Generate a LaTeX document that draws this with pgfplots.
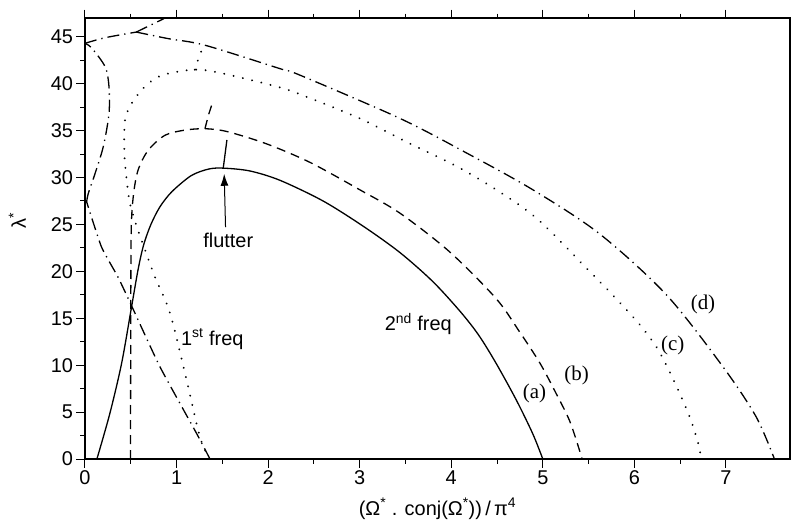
\documentclass[border=0pt]{standalone}
\usepackage{fontspec}
\setmainfont{Liberation Sans}
\newfontfamily\serif{Liberation Serif}
\usepackage{pgfplots}
\pgfplotsset{compat=1.18}
\usetikzlibrary{arrows.meta}

\begin{document}
\begin{tikzpicture}
\path[use as bounding box] (-85bp,-69bp) rectangle (706bp,459bp);
\begin{axis}[
    at={(0,0)}, anchor=south west,
    scale only axis,
    width=705bp, height=441bp,
    xmin=0, xmax=7.7, ymin=0, ymax=47,
    xtick={0,1,...,7}, ytick={0,5,...,45},
    minor x tick num=1, minor y tick num=1,
    tick align=outside,
    major tick length=8.5bp, minor tick length=4.5bp,
    axis line style={line width=1.2bp},
    every tick/.style={line width=1bp, black},
    tick label style={font=\fontsize{20}{22}\selectfont},
    /pgf/number format/assume math mode=true,
    label style={font=\fontsize{20}{22}\selectfont},
    xlabel={(Ω\textsuperscript{*} . conj(Ω\textsuperscript{*}))\,/\,π\textsuperscript{4}},
    ylabel={λ\textsuperscript{*}},
    xlabel style={at={(axis description cs:0.5,-0.113)}, anchor=center},
    ylabel style={at={(axis description cs:-0.096,0.54)}, anchor=center},
    cycle list={{black}},
    no markers,
    every axis plot/.append style={line width=1.3bp},
    solidc/.style={black, solid},
    dashc/.style={black, dash pattern=on 9bp off 6bp},
    dotc/.style={black, line width=2.1bp, line cap=round, dash pattern=on 0.01bp off 9.5bp},
    ddotc/.style={black, dash pattern=on 12bp off 5bp on 1.3bp off 5bp},
]
% (a) solid
\addplot[solidc, smooth, tension=0.5] coordinates {
    (0.13,0) (0.27,4.8) (0.40,10.2) (0.51,16.3) (0.58,20.2) (0.64,22.8)
    (0.72,25.0) (0.82,26.9) (0.95,28.5) (1.16,30.2) (1.35,30.9) (1.51,31.0)
    (1.8,30.7) (2.13,29.7) (2.6,27.5) (3.04,24.8) (3.44,22.0) (3.80,18.9)
    (4.1,15.7) (4.3,13.2) (4.49,10.2) (4.71,6.3) (4.89,2.7) (5.0,0)
};
\addplot[solidc] coordinates {(1.51,31.0) (1.55,34.0)};
% (b) dashed
\addplot[dashc, smooth, tension=0.5] coordinates {
    (0.497,0) (0.5,15) (0.505,24.5) (0.53,28.2) (0.58,30.8) (0.69,32.9)
    (0.873,34.5) (1.09,35.05) (1.31,35.2) (1.55,34.9) (1.98,33.6)
    (2.46,31.6) (3.0,28.7) (3.44,26.2) (3.98,22.1) (4.49,17.1) (4.75,13.5)
    (4.97,10.2) (5.15,6.9) (5.3,3.9) (5.43,0)
};
\addplot[dashc] coordinates {(1.31,35.2) (1.35,36.7) (1.40,38.2)};
% (c) dotted
\addplot[dotc, smooth, tension=0.5] coordinates {
    (1.36,0) (1.255,2.35) (1.11,8.4) (0.93,15.5) (0.764,19.4) (0.655,22.3)
    (0.56,24.9) (0.49,27.3) (0.456,29.7) (0.43,32.6) (0.437,36.1) (0.51,37.9)
    (0.655,39.7) (0.84,40.9) (1.2,41.5) (1.5,41.1) (2.13,39.6) (2.42,38.6)
    (3.0,36.3) (3.51,33.8) (4.17,30.6) (4.89,26.0) (5.51,20.0) (5.81,17.0)
    (6.06,14.3) (6.25,11.8) (6.42,8.6) (6.6,4.6) (6.7,1.6) (6.73,0)
};
\addplot[dotc] coordinates {(1.2,41.5) (1.25,43.0) (1.31,44.3)};
% (d) dash-dot
\addplot[ddotc, smooth, tension=0.3] coordinates {
    (1.365,0) (1.22,2.7) (0.82,9.8) (0.51,16.3) (0.36,19.4) (0.18,22.6) (0.018,27.4)
};
\addplot[ddotc, smooth, tension=0.5] coordinates {
    (0.018,27.4) (0.036,28.3) (0.109,30.4) (0.2,33.3) (0.262,36.8) (0.262,39.7)
    (0.22,41.8) (0.073,43.8) (0.0,44.3)
};
\addplot[ddotc, smooth, tension=0.5] coordinates {
    (0.0,44.3) (0.22,44.9) (0.56,45.5)
};
\addplot[ddotc, smooth, tension=0.5] coordinates {
    (0.56,45.5) (0.91,44.8) (1.31,44.1) (2.13,41.6) (2.35,40.9) (3.44,36.3)
    (4.17,32.6) (4.89,28.7) (5.62,24.0) (6.35,17.5) (6.97,9.8) (7.33,4.5) (7.53,0)
};
\addplot[ddotc] coordinates {(0.56,45.5) (0.855,46.9) (0.95,47.5)};
% arrow
\addplot[black, line width=1bp, -{Latex[length=12bp,width=8bp]}] coordinates {(1.535,24.7) (1.52,30.4)};

\node[font=\fontsize{20}{22}\selectfont] at (axis cs:1.565,23.3) {flutter};
\node[font=\fontsize{20}{22}\selectfont] at (axis cs:1.39,12.8) {1\textsuperscript{st} freq};
\node[font=\fontsize{20}{22}\selectfont] at (axis cs:3.64,14.4) {2\textsuperscript{nd} freq};
\node[font=\serif\fontsize{21}{23}\selectfont] at (axis cs:4.91,7.0) {(a)};
\node[font=\serif\fontsize{21}{23}\selectfont] at (axis cs:5.37,8.85) {(b)};
\node[font=\serif\fontsize{21}{23}\selectfont] at (axis cs:6.42,12.1) {(c)};
\node[font=\serif\fontsize{21}{23}\selectfont] at (axis cs:6.75,16.5) {(d)};
\end{axis}
\end{tikzpicture}
\end{document}
